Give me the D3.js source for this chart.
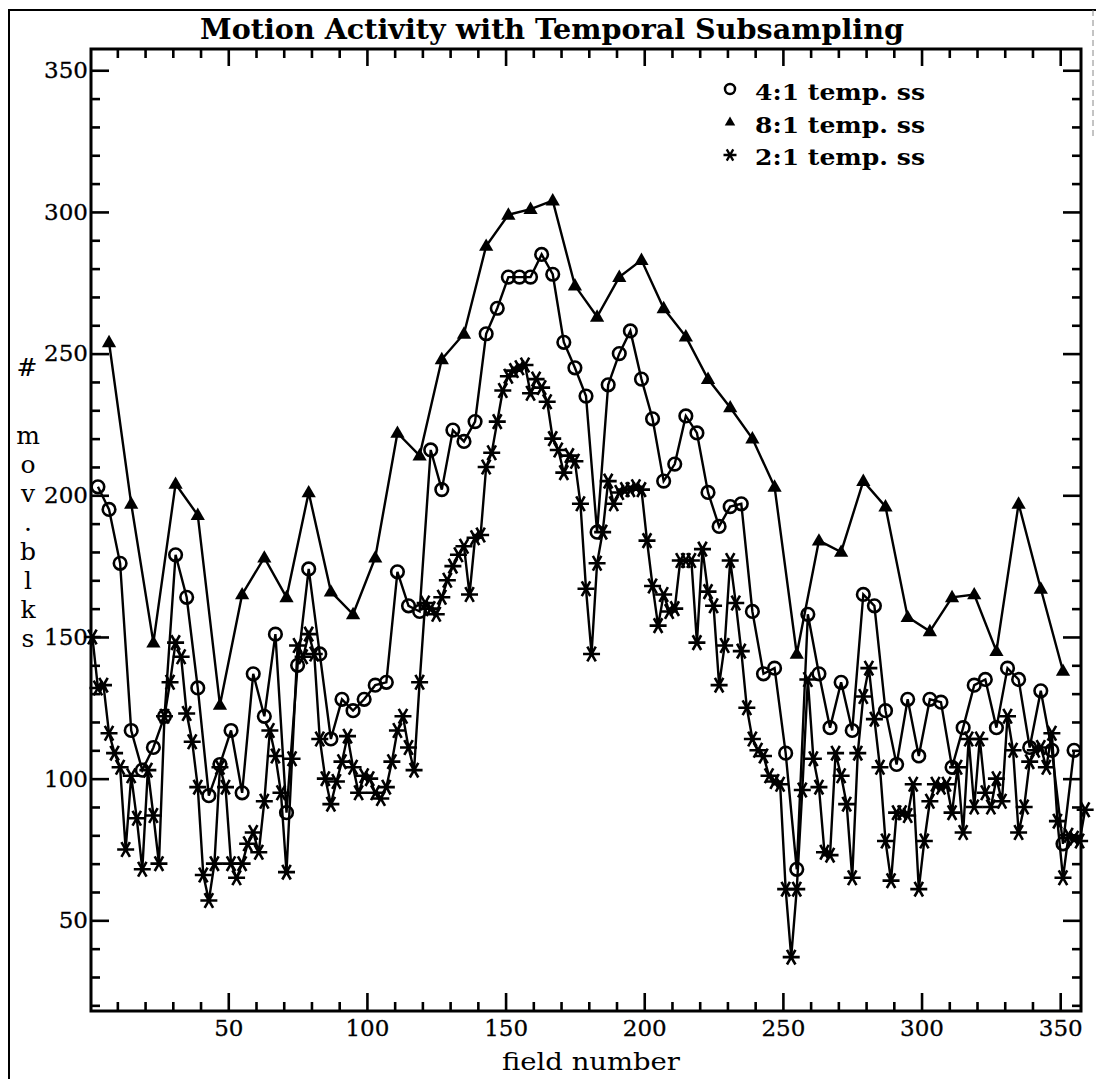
<!DOCTYPE html>
<html lang="en">
<head>
    <meta charset="UTF-8">
    <title>Motion Activity with Temporal Subsampling</title>
    <script src="https://d3js.org/d3.v7.min.js"></script>
    <style>
        body { margin: 0; background: #fff; }
        .series { fill: none; stroke: #000; stroke-width: 2.4px; }
        .tick line { stroke: #000; stroke-width: 2.6px; }
        .tick text { font-family: "DejaVu Serif", serif; font-size: 23px; fill: #000; stroke: #000; stroke-width: 0.3px; }
        .frame { fill: none; stroke: #000; stroke-width: 3px; }
        .label { font-family: "DejaVu Serif", serif; font-size: 25px; fill: #000; }
    </style>
</head>
<body>
    <svg width="1096" height="1079"></svg>

    <script>
        // Data: field numbers for each subsampling rate, and the moving-block counts
        const fields2 = d3.range(1, 360, 2);
        const fields4 = d3.range(3, 356, 4);
        const fields8 = d3.range(7, 352, 8);

        const ss2 = [150, 132, 133, 116, 109, 104, 75, 101, 86, 68,
            103, 87, 70, 122, 134, 148, 143, 123, 113, 97,
            66, 57, 70, 104, 97, 70, 65, 70, 77, 81,
            74, 92, 117, 108, 95, 67, 107, 147, 143, 151,
            144, 114, 100, 91, 99, 106, 115, 104, 95, 101,
            100, 95, 93, 97, 106, 117, 122, 111, 103, 134,
            162, 160, 158, 164, 170, 175, 179, 182, 165, 185,
            186, 210, 215, 226, 237, 242, 244, 245, 246, 236,
            241, 238, 233, 220, 216, 208, 214, 212, 197, 167,
            144, 176, 187, 205, 197, 201, 202, 202, 203, 202,
            184, 168, 154, 165, 159, 160, 177, 177, 177, 148,
            181, 166, 161, 133, 147, 177, 162, 145, 125, 114,
            110, 108, 101, 99, 98, 61, 37, 61, 96, 135,
            107, 97, 74, 73, 109, 101, 91, 65, 109, 129,
            139, 121, 104, 78, 64, 88, 88, 87, 98, 61,
            78, 92, 98, 97, 98, 88, 104, 81, 114, 90,
            114, 95, 90, 100, 92, 122, 110, 81, 90, 106,
            110, 111, 104, 116, 85, 65, 80, 79, 78, 89];

        const ss4 = [203, 195, 176, 117, 103, 111, 122, 179, 164, 132,
            94, 105, 117, 95, 137, 122, 151, 88, 140, 174,
            144, 114, 128, 124, 128, 133, 134, 173, 161, 159,
            216, 202, 223, 219, 226, 257, 266, 277, 277, 277,
            285, 278, 254, 245, 235, 187, 239, 250, 258, 241,
            227, 205, 211, 228, 222, 201, 189, 196, 197, 159,
            137, 139, 109, 68, 158, 137, 118, 134, 117, 165,
            161, 124, 105, 128, 108, 128, 127, 104, 118, 133,
            135, 118, 139, 135, 111, 131, 110, 77, 110];

        const ss8 = [254, 197, 148, 204, 193, 126, 165, 178, 164, 201,
            166, 158, 178, 222, 214, 248, 257, 288, 299, 301,
            304, 274, 263, 277, 283, 266, 256, 241, 231, 220,
            203, 144, 184, 180, 205, 196, 157, 152, 164, 165,
            145, 197, 167, 138];

        const legendLabels = ["4:1 temp. ss", "8:1 temp. ss", "2:1 temp. ss"];
        const yLabelChars = ["m", "o", "v", ".", "b", "l", "k", "s"];
        const majorTicks = [50, 100, 150, 200, 250, 300, 350];

        const svg = d3.select("svg");
        svg.append("rect").attr("width", 1096).attr("height", 1079).attr("fill", "#fff");

        // outer page frame (scanned border)
        svg.append("path")
            .attr("d", "M9,1079 L9,10 L1096,10")
            .attr("fill", "none").attr("stroke", "#000").attr("stroke-width", 2);
        svg.append("line")
            .attr("x1", 1093).attr("x2", 1093).attr("y1", 10).attr("y2", 140)
            .attr("stroke", "#888").attr("stroke-width", 1).attr("stroke-dasharray", "6,4");

        const plotLeft = 91, plotRight = 1081, plotTop = 49, plotBottom = 1011;
        const x = d3.scaleLinear().domain([0.5, 357.5]).range([plotLeft, plotRight]);
        const y = d3.scaleLinear().domain([18, 357.5]).range([plotBottom, plotTop]);

        const xMinor = d3.range(10, 351, 10).filter(v => v % 50 !== 0);
        const yMinor = d3.range(20, 351, 10).filter(v => v % 50 !== 0);

        // Axes: ticks point inward on all four sides
        function addAxis(axisFn, scale, tx, ty, values, size, labels) {
            const a = axisFn(scale).tickValues(values).tickSize(-size).tickSizeOuter(0)
                .tickPadding(labels ? 9 : 0);
            if (!labels) a.tickFormat("");
            const g = svg.append("g").attr("transform", `translate(${tx},${ty})`).call(a);
            g.select(".domain").remove();
            return g;
        }
        addAxis(d3.axisBottom, x, 0, plotBottom, majorTicks, 18, true);
        addAxis(d3.axisBottom, x, 0, plotBottom, xMinor, 9, false);
        addAxis(d3.axisTop, x, 0, plotTop, majorTicks, 17, false);
        addAxis(d3.axisTop, x, 0, plotTop, xMinor, 9, false);
        const yl = addAxis(d3.axisLeft, y, plotLeft, 0, majorTicks, 18, true);
        yl.selectAll("text").attr("x", -3);
        addAxis(d3.axisLeft, y, plotLeft, 0, yMinor, 9, false);
        addAxis(d3.axisRight, y, plotRight, 0, majorTicks, 18, false);
        addAxis(d3.axisRight, y, plotRight, 0, yMinor, 9, false);

        svg.append("rect").attr("class", "frame")
            .attr("x", plotLeft).attr("y", plotTop)
            .attr("width", plotRight - plotLeft).attr("height", plotBottom - plotTop);

        // Series lines
        const line = d3.line().x(d => x(d[0])).y(d => y(d[1]));
        const pts2 = fields2.map((f, i) => [f, ss2[i]]);
        const pts4 = fields4.map((f, i) => [f, ss4[i]]);
        const pts8 = fields8.map((f, i) => [f, ss8[i]]);

        [pts8, pts4, pts2].forEach(p => {
            svg.append("path").datum(p).attr("class", "series").attr("d", line);
        });

        // Markers
        const triPath = (s) => `M0,${-s} L${s * 0.95},${s * 0.65} L${-s * 0.95},${s * 0.65} Z`;
        const starPath = (r) => {
            const a = Math.PI / 3;
            let d = `M${-r},0 L${r},0`;
            [a, -a].forEach(t => {
                d += ` M${-r * Math.cos(t)},${-r * Math.sin(t)} L${r * Math.cos(t)},${r * Math.sin(t)}`;
            });
            return d;
        };

        svg.append("g").selectAll("path").data(pts8).join("path")
            .attr("transform", d => `translate(${x(d[0])},${y(d[1])})`)
            .attr("d", triPath(7.5)).attr("fill", "#000");

        svg.append("g").selectAll("circle").data(pts4).join("circle")
            .attr("cx", d => x(d[0])).attr("cy", d => y(d[1])).attr("r", 6.3)
            .attr("fill", "none").attr("stroke", "#000").attr("stroke-width", 2.6);

        svg.append("g").selectAll("path").data(pts2).join("path")
            .attr("transform", d => `translate(${x(d[0])},${y(d[1])})`)
            .attr("d", starPath(8.5)).attr("fill", "none")
            .attr("stroke", "#000").attr("stroke-width", 2.6);

        // Title
        svg.append("text")
            .attr("x", 552).attr("y", 39)
            .attr("text-anchor", "middle")
            .attr("textLength", 704).attr("lengthAdjust", "spacingAndGlyphs")
            .style("font-family", "'DejaVu Serif', serif")
            .style("font-weight", "bold").style("font-size", "27px")
            .text("Motion Activity with Temporal Subsampling");

        // Legend
        const legY = [89, 122, 155];
        const legText = [100, 133, 165];
        const lg = svg.append("g");
        lg.append("circle").attr("cx", 730).attr("cy", legY[0]).attr("r", 5)
            .attr("fill", "none").attr("stroke", "#000").attr("stroke-width", 2.5);
        lg.append("path").attr("transform", `translate(730,${legY[1]})`)
            .attr("d", triPath(5.5)).attr("fill", "#000");
        lg.append("path").attr("transform", `translate(730,${legY[2]})`)
            .attr("d", starPath(6.5)).attr("stroke", "#000").attr("stroke-width", 2.3);
        legendLabels.forEach((t, i) => {
            lg.append("text")
                .attr("x", 755).attr("y", legText[i])
                .attr("textLength", 170).attr("lengthAdjust", "spacingAndGlyphs")
                .style("font-family", "'DejaVu Serif', serif")
                .style("font-weight", "bold").style("font-size", "22px")
                .text(t);
        });

        // Axis labels
        svg.append("text").attr("class", "label")
            .attr("x", 591).attr("y", 1070)
            .attr("text-anchor", "middle")
            .attr("textLength", 178).attr("lengthAdjust", "spacingAndGlyphs")
            .text("field number");

        svg.append("text").attr("class", "label")
            .attr("x", 27).attr("y", 376)
            .attr("text-anchor", "middle")
            .text("#");
        svg.append("g").selectAll("text").data(yLabelChars).join("text")
            .attr("class", "label")
            .attr("x", 28)
            .attr("y", (d, i) => 444 + i * 29)
            .attr("text-anchor", "middle")
            .text(d => d);
    </script>
</body>
</html>
